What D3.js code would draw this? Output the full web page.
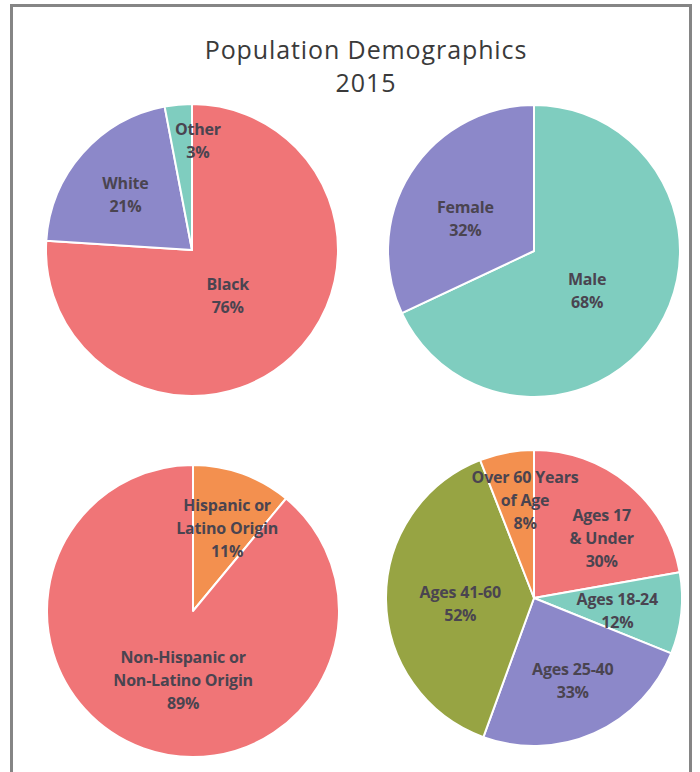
<!DOCTYPE html>
<html>
<head>
<meta charset="utf-8">
<script src="https://cdn.jsdelivr.net/npm/d3@7"></script>
<style>
  html, body { margin: 0; padding: 0; background: #fff; }
  svg { display: block; }
</style>
</head>
<body>
<svg id="chart" width="700" height="772"></svg>
<script>
// ---- data ----
const titleLines = ["Population Demographics", "2015"];

const raceLabels = ["Black", "White", "Other"];
const raceValues = [76, 21, 3];

const sexLabels = ["Male", "Female"];
const sexValues = [68, 32];

const ethnicityLabels = ["Hispanic or\nLatino Origin", "Non-Hispanic or\nNon-Latino Origin"];
const ethnicityValues = [11, 89];

const ageLabels = ["Ages 17\n& Under", "Ages 18-24", "Ages 25-40", "Ages 41-60", "Over 60 Years\nof Age"];
const ageValues = [30, 12, 33, 52, 8];

// ---- palette ----
const RED = "#f07577", PURPLE = "#8c88c9", TEAL = "#7fcdbf", ORANGE = "#f3904f", OLIVE = "#97a443";

// ---- layout: pie centre/radius plus label placement (radius fraction, angle shift in degrees) ----
const panels = [
  { labels: raceLabels, values: raceValues, colors: [RED, PURPLE, TEAL],
    cx: 192, cy: 250, r: 146, spots: [[0.40, 5.5], [0.59, -2], [0.75, 8.5]] },
  { labels: sexLabels, values: sexValues, colors: [TEAL, PURPLE],
    cx: 534, cy: 251, r: 146, spots: [[0.455, 4.6], [0.52, -7.2]] },
  { labels: ethnicityLabels, values: ethnicityValues, colors: [ORANGE, RED],
    cx: 193, cy: 611, r: 146, spots: [[0.61, 2.7], [0.48, -11.7]] },
  { labels: ageLabels, values: ageValues, colors: [RED, TEAL, PURPLE, OLIVE, ORANGE],
    cx: 534, cy: 598, r: 148, spots: [[0.61, 8.6], [0.57, 3.1], [0.62, -1], [0.50, -3.9], [0.66, 5.4]] }
];

const svg = d3.select("#chart");

// outer frame (open at the bottom edge)
svg.append("rect")
  .attr("x", 11.5).attr("y", 5.5)
  .attr("width", 679).attr("height", 800)
  .attr("fill", "none")
  .attr("stroke", "#858585")
  .attr("stroke-width", 3);

// title
svg.append("text")
  .attr("x", 366).attr("y", 59)
  .attr("text-anchor", "middle")
  .attr("font-family", "'Open Sans', sans-serif")
  .attr("font-size", 25)
  .attr("letter-spacing", 0.9)
  .attr("fill", "#3a3a3a")
  .selectAll("tspan")
  .data(titleLines)
  .join("tspan")
  .attr("x", 366)
  .attr("dy", (d, i) => i === 0 ? 0 : 32.5)
  .text(d => d);

const pie = d3.pie().sort(null).value(d => d.value);

panels.forEach(p => {
  const rows = p.values.map((v, i) => ({ value: v, label: p.labels[i], color: p.colors[i], spot: p.spots[i] }));
  const arcs = pie(rows);
  const arc = d3.arc().innerRadius(0).outerRadius(p.r);

  const g = svg.append("g").attr("transform", `translate(${p.cx},${p.cy})`);

  g.selectAll("path")
    .data(arcs)
    .join("path")
    .attr("d", arc)
    .attr("fill", d => d.data.color)
    .attr("stroke", "#fff")
    .attr("stroke-width", 2)
    .attr("stroke-linejoin", "round");

  const lineH = 23;
  g.selectAll("text.lbl")
    .data(arcs)
    .join("text")
    .attr("class", "lbl")
    .attr("text-anchor", "middle")
    .attr("font-family", "'Open Sans', sans-serif")
    .attr("font-weight", 700)
    .attr("font-size", 16)
    .attr("letter-spacing", -0.2)
    .attr("fill", "#4a4450")
    .each(function (d) {
      const [rf, shift] = d.data.spot;
      const mid = (d.startAngle + d.endAngle) / 2 + shift * Math.PI / 180;
      const rr = rf * p.r;
      const x = rr * Math.sin(mid);
      const y = -rr * Math.cos(mid);
      const lines = d.data.label.split("\n").concat([d.data.value + "%"]);
      const top = y - (lines.length - 1) * lineH / 2;
      d3.select(this).selectAll("tspan")
        .data(lines)
        .join("tspan")
        .attr("x", x)
        .attr("y", (t, i) => top + i * lineH)
        .attr("dy", "0.35em")
        .text(t => t);
    });
});
</script>
</body>
</html>
